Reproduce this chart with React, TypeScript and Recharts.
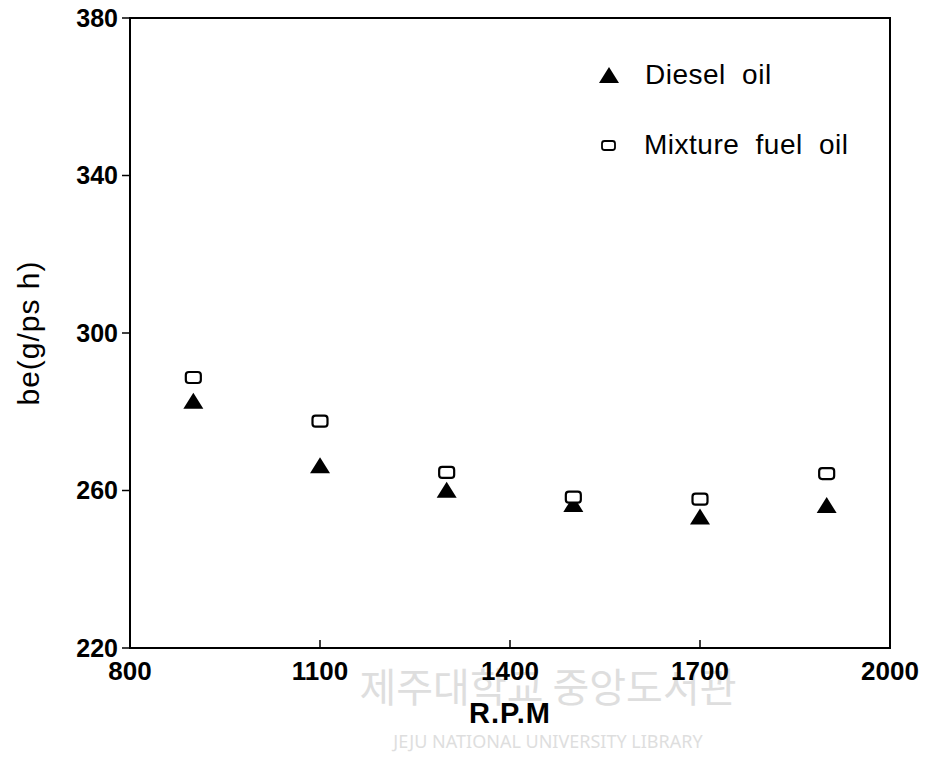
import React from "react";
import {
  ReferenceArea,
  Scatter,
  ScatterChart,
  XAxis,
  YAxis,
} from "recharts";

const rpm = [900, 1100, 1300, 1500, 1700, 1900];
const dieselBe = [282.8, 266.4, 260.2, 256.6, 253.4, 256.3];
const mixtureBe = [288.7, 277.6, 264.6, 258.3, 257.8, 264.3];

const xTicks = [800, 1100, 1400, 1700, 2000];
const yTicks = [220, 260, 300, 340, 380];

const seriesNames = ["Diesel oil", "Mixture fuel oil"];

const dieselData = rpm.map((r, i) => ({ rpm: r, be: dieselBe[i] }));
const mixtureData = rpm.map((r, i) => ({ rpm: r, be: mixtureBe[i] }));

const FONT = "'Liberation Sans', Arial, sans-serif";

const Triangle = (props: any) => {
  const { cx, cy } = props;
  return (
    <path
      d={`M${cx},${cy - 8} L${cx + 10},${cy + 8} L${cx - 10},${cy + 8} Z`}
      fill="#000"
    />
  );
};

const Box = (props: any) => {
  const { cx, cy } = props;
  return (
    <rect
      x={cx - 7.5}
      y={cy - 5.5}
      width={15}
      height={11}
      rx={3}
      fill="#fff"
      stroke="#000"
      strokeWidth={2.2}
    />
  );
};

// x ticks point inward (up into the plot), labels sit below the axis
const XTick = (props: any) => {
  const { x, y, payload } = props;
  const axisY = y - 14;
  return (
    <g>
      <line x1={x} x2={x} y1={axisY} y2={axisY - 8} stroke="#000" strokeWidth={1.5} />
      <text
        x={x}
        y={y}
        dy="0.71em"
        textAnchor="middle"
        fontFamily={FONT}
        fontWeight="bold"
        fontSize={26}
        fill="#000"
      >
        {payload.value}
      </text>
    </g>
  );
};

const LegendBox = () => (
  <div
    style={{
      position: "absolute",
      left: 594,
      top: 55,
      fontFamily: FONT,
      fontSize: 28,
      letterSpacing: 0.5,
      wordSpacing: 8,
      color: "#000",
    }}
  >
    <div style={{ display: "flex", alignItems: "center", height: 40 }}>
      <svg width={30} height={24}>
        <path d="M15,4 L25,20 L5,20 Z" fill="#000" />
      </svg>
      <span style={{ marginLeft: 21 }}>{seriesNames[0]}</span>
    </div>
    <div style={{ display: "flex", alignItems: "center", height: 40, marginTop: 30 }}>
      <svg width={30} height={24}>
        <rect x={8} y={8} width={13} height={9} rx={2.5} fill="#fff" stroke="#000" strokeWidth={1.8} />
      </svg>
      <span style={{ marginLeft: 20 }}>{seriesNames[1]}</span>
    </div>
  </div>
);

export default function App() {
  return (
    <div style={{ position: "fixed", left: 0, top: 0, width: 929, height: 758, background: "#fff" }}>
      {/* faint library watermark behind the chart */}
      <svg
        width={929}
        height={758}
        style={{ position: "absolute", left: 0, top: 0 }}
      >
        <text
          x={548}
          y={702}
          textAnchor="middle"
          fontFamily="'Noto Sans CJK KR', sans-serif"
          fontSize={40}
          fill="#dedede"
        >
          제주대학교 중앙도서관
        </text>
        <text
          x={548}
          y={748}
          textAnchor="middle"
          fontFamily="'Noto Sans', sans-serif"
          fontSize={18}
          fill="#dedede"
        >
          JEJU NATIONAL UNIVERSITY LIBRARY
        </text>
      </svg>
      <div style={{ position: "absolute", left: 0, top: 0 }}>
        <ScatterChart
          width={929}
          height={758}
          margin={{ top: 18, right: 39, bottom: 60, left: 60 }}
        >
          <ReferenceArea
            x1={800}
            x2={2000}
            y1={220}
            y2={380}
            fill="none"
            stroke="#000"
            strokeWidth={2}
            fillOpacity={0}
          />
          <XAxis
            type="number"
            dataKey="rpm"
            domain={[800, 2000]}
            ticks={xTicks}
            tickSize={0}
            tickMargin={14}
            tick={<XTick />}
            axisLine={{ stroke: "#000", strokeWidth: 2 }}
            height={50}
            label={{
              value: "R.P.M",
              position: "bottom",
              offset: 4,
              style: {
                fontFamily: FONT,
                fontWeight: "bold",
                fontSize: 29,
                letterSpacing: 1,
                fill: "#000",
              },
            }}
          />
          <YAxis
            type="number"
            dataKey="be"
            domain={[220, 380]}
            ticks={yTicks}
            tickSize={8}
            tickMargin={4}
            width={70}
            axisLine={{ stroke: "#000", strokeWidth: 2 }}
            tickLine={{ stroke: "#000", strokeWidth: 1.5 }}
            tick={{ fontFamily: FONT, fontWeight: "bold", fontSize: 25, fill: "#000" }}
            label={{
              value: "be(g/ps h)",
              angle: -90,
              position: "left",
              offset: 32,
              style: {
                fontFamily: FONT,
                fontSize: 30,
                letterSpacing: 1,
                fill: "#000",
                textAnchor: "middle",
              },
            }}
          />
          <Scatter
            name={seriesNames[0]}
            data={dieselData}
            shape={<Triangle />}
            isAnimationActive={false}
          />
          <Scatter
            name={seriesNames[1]}
            data={mixtureData}
            shape={<Box />}
            isAnimationActive={false}
          />
        </ScatterChart>
      </div>
      <LegendBox />
    </div>
  );
}
